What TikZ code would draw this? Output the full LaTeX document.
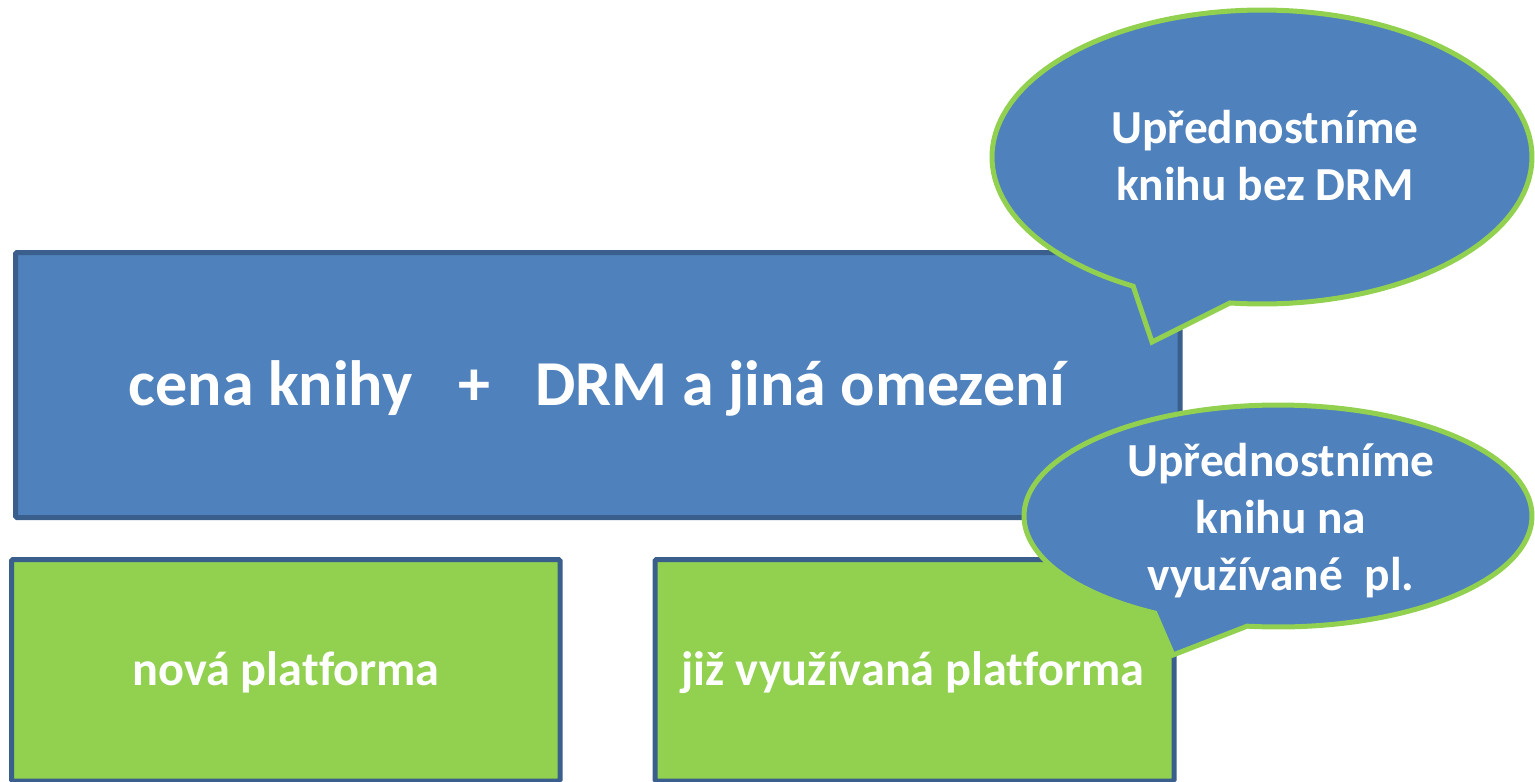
\documentclass[tikz,border=0pt]{standalone}
\usepackage{fontspec}
\setmainfont{Carlito}[Ligatures=NoCommon]
\definecolor{boxblue}{HTML}{4F81BD}
\definecolor{edgeblue}{HTML}{3A5F8C}
\definecolor{leaf}{HTML}{92D050}
\begin{document}
\begin{tikzpicture}[x=1pt,y=-1pt,
  mainbox/.style={draw=edgeblue,line width=5pt,fill=boxblue,rounded corners=1.5pt},
  greenbox/.style={draw=edgeblue,line width=5pt,fill=leaf,rounded corners=1.5pt},
  callout/.style={draw=leaf,line width=5pt,fill=boxblue,line join=miter},
  bigtxt/.style={text=white,font=\bfseries\fontsize{64}{76}\selectfont,anchor=base},
  boxtxt/.style={text=white,font=\bfseries\fontsize{48.3}{58}\selectfont,anchor=base},
  calltxt/.style={text=white,font=\bfseries\fontsize{47.4}{57}\selectfont,anchor=base,align=center}]
\useasboundingbox (0,0) rectangle (1535,782);
% main box
\draw[mainbox] (15.5,252.5) rectangle (1180,517.5);
\node[bigtxt] (main) at (597,405) {cena knihy\hspace{46pt}+\hspace{45pt}DRM a jiná omezení};
% green boxes
\draw[greenbox] (11.5,559.5) rectangle (560,781);
\node[boxtxt] (nova) at (286,685) {nová platforma};
\draw[greenbox] (655,559.5) rectangle (1174,781);
\node[boxtxt] (jiz) at (913,685) {již využívaná platforma};
% callout 1
\coordinate (tipA) at (1152,342);
\path[callout] (tipA) -- plot[domain=118.5:456.8,samples=160] ({1262+270*cos(\x)},{157+147*sin(\x)}) -- cycle;
\node[calltxt] (c1a) at (1265,143) {Upřednostníme};
\node[calltxt] (c1b) at (1265,200) {knihu bez DRM};
% callout 2
\coordinate (tipB) at (1173,655);
\path[callout] (tipB) -- plot[domain=119:457,samples=160] ({1278+254*cos(\x)},{516+111*sin(\x)}) -- cycle;
\node[calltxt] (c2a) at (1281,476) {Upřednostníme};
\node[calltxt] (c2b) at (1281,533) {knihu na};
\node[calltxt] (c2c) at (1281,590) {využívané\ \ pl.};
\end{tikzpicture}
\end{document}
